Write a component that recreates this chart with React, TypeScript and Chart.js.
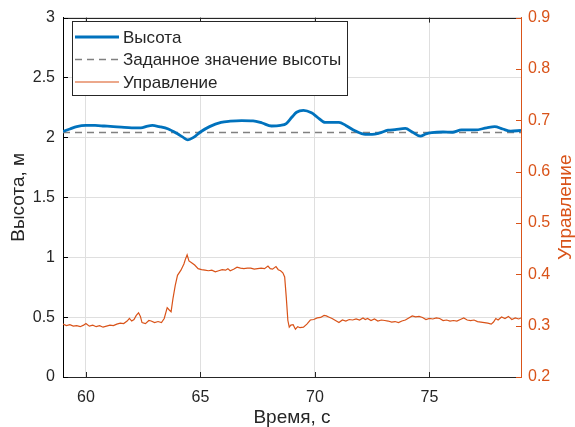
import React, { useEffect, useRef } from "react";
import { Chart, registerables } from "chart.js";

Chart.register(...registerables);

const BLUE = "#0072BD";
const ORANGE = "#D95319";
const DARK = "#262626";
const FONT = '"Liberation Sans", Arial, sans-serif';

const heightTime = [
  59.0, 59.3, 59.6, 60.0, 60.4, 60.8, 61.2, 61.55, 62.0, 62.4, 62.7, 62.9, 63.2, 63.6,
  64.0, 64.25, 64.45, 64.7, 65.0, 65.4, 65.9, 66.3, 66.8, 67.3, 67.7, 68.1, 68.5, 68.75,
  69.0, 69.2, 69.5, 69.85, 70.1, 70.45, 70.8, 71.05, 71.35, 71.75, 72.2, 72.5, 72.8, 73.2,
  73.5, 73.95, 74.25, 74.6, 74.85, 75.1, 75.6, 76.0, 76.4, 77.0, 77.5, 77.85, 78.2, 78.55, 79.0,
];
const heightValues = [
  2.05, 2.07, 2.09, 2.1, 2.1, 2.095, 2.09, 2.085, 2.08, 2.08, 2.095, 2.1, 2.09, 2.07,
  2.03, 2.0, 1.98, 2.0, 2.045, 2.09, 2.125, 2.135, 2.14, 2.138, 2.12, 2.095, 2.1, 2.115,
  2.17, 2.21, 2.225, 2.205, 2.17, 2.125, 2.125, 2.125, 2.1, 2.055, 2.025, 2.025, 2.035, 2.06,
  2.065, 2.075, 2.045, 2.01, 2.03, 2.04, 2.045, 2.043, 2.062, 2.062, 2.08, 2.09, 2.07, 2.052, 2.058,
];

const setpointTime = [59, 79];
const setpointValues = [2.04, 2.04];

const controlTime = [
  59.0, 59.15, 59.3, 59.45, 59.6, 59.75, 59.9, 60.0, 60.15, 60.3, 60.45, 60.6, 60.75, 60.9,
  61.05, 61.2, 61.35, 61.5, 61.65, 61.8, 61.9, 62.0, 62.1, 62.2, 62.3, 62.38, 62.45, 62.6,
  62.75, 62.85, 63.0, 63.15, 63.3, 63.42, 63.55, 63.65, 63.72, 63.8, 63.9, 64.0, 64.15, 64.28,
  64.35, 64.42, 64.5, 64.6, 64.75, 64.9, 65.05, 65.2, 65.35, 65.5, 65.65, 65.8, 65.95, 66.1,
  66.2, 66.3, 66.45, 66.6, 66.75, 66.9, 67.05, 67.2, 67.35, 67.5, 67.65, 67.8, 67.95, 68.05,
  68.15, 68.3, 68.4, 68.5, 68.6, 68.68, 68.75, 68.82, 68.88, 68.95, 69.05, 69.15, 69.25, 69.35,
  69.5, 69.65, 69.8, 69.95, 70.1, 70.25, 70.4, 70.5, 70.6, 70.75, 70.9, 71.05, 71.2, 71.35,
  71.5, 71.65, 71.8, 71.95, 72.1, 72.2, 72.3, 72.45, 72.6, 72.75, 72.9, 73.05, 73.2, 73.35,
  73.5, 73.65, 73.8, 73.95, 74.1, 74.25, 74.4, 74.55, 74.7, 74.85, 75.0, 75.15, 75.3, 75.45,
  75.6, 75.75, 75.9, 76.05, 76.2, 76.35, 76.5, 76.65, 76.8, 76.95, 77.1, 77.25, 77.4, 77.55,
  77.7, 77.8, 77.9, 78.0, 78.15, 78.3, 78.45, 78.6, 78.75, 78.9, 79.0,
];
const controlValues = [
  0.303, 0.3, 0.302, 0.299, 0.3, 0.298, 0.301, 0.304, 0.299, 0.301, 0.298, 0.3, 0.297, 0.299,
  0.301, 0.3, 0.303, 0.305, 0.304, 0.309, 0.314, 0.309, 0.312, 0.32, 0.325, 0.318, 0.306, 0.304,
  0.31, 0.309, 0.306, 0.308, 0.306, 0.314, 0.335, 0.33, 0.327, 0.352, 0.378, 0.398, 0.408, 0.42,
  0.43, 0.438, 0.426, 0.423, 0.418, 0.411, 0.409, 0.408, 0.407, 0.408, 0.405, 0.407, 0.409, 0.408,
  0.411, 0.407, 0.41, 0.414, 0.412, 0.411, 0.412, 0.412, 0.41, 0.411, 0.412, 0.411, 0.416, 0.411,
  0.41, 0.415, 0.409, 0.407, 0.403, 0.395, 0.355, 0.31, 0.297, 0.301, 0.302, 0.293, 0.298, 0.296,
  0.297, 0.303, 0.311, 0.312, 0.315, 0.316, 0.32, 0.319, 0.317, 0.314, 0.31, 0.306, 0.311, 0.309,
  0.312, 0.311, 0.313, 0.311, 0.315, 0.312, 0.314, 0.31, 0.313, 0.309, 0.311, 0.31, 0.309, 0.307,
  0.308, 0.306, 0.309, 0.311, 0.315, 0.319, 0.317, 0.318, 0.316, 0.312, 0.314, 0.313, 0.315, 0.314,
  0.31, 0.311, 0.309, 0.31, 0.309, 0.312, 0.315, 0.311, 0.31, 0.311, 0.308, 0.307, 0.306, 0.305,
  0.303, 0.307, 0.314, 0.311, 0.317, 0.314, 0.318, 0.312, 0.315, 0.313, 0.315,
];

const xTickValues = [60, 65, 70, 75];
const leftTickValues = [0, 0.5, 1, 1.5, 2, 2.5, 3];
const rightTickValues = [0.2, 0.3, 0.4, 0.5, 0.6, 0.7, 0.8, 0.9];
const legendLabels = ["Высота", "Заданное значение высоты", "Управление"];
const xTitle = "Время, с";
const leftTitle = "Высота, м";
const rightTitle = "Управление";

const toPoints = (xs: number[], ys: number[]) => xs.map((x, i) => ({ x, y: ys[i] }));

const framePlugin = {
  id: "frame",
  afterDraw(chart: any) {
    const { ctx, chartArea: a, scales } = chart;
    ctx.save();
    ctx.lineWidth = 1;
    // top border
    ctx.strokeStyle = DARK;
    ctx.beginPath();
    ctx.moveTo(a.left, Math.round(a.top) + 0.5);
    ctx.lineTo(a.right, Math.round(a.top) + 0.5);
    ctx.stroke();
    // x ticks (inward, bottom and top)
    ctx.beginPath();
    for (const v of xTickValues) {
      const px = Math.round(scales.x.getPixelForValue(v)) + 0.5;
      ctx.moveTo(px, a.bottom);
      ctx.lineTo(px, a.bottom - 5);
      ctx.moveTo(px, a.top);
      ctx.lineTo(px, a.top + 5);
    }
    ctx.stroke();
    // left ticks
    ctx.strokeStyle = "#000";
    ctx.beginPath();
    for (const v of leftTickValues) {
      const py = Math.round(scales.y.getPixelForValue(v)) + 0.5;
      ctx.moveTo(a.left, py);
      ctx.lineTo(a.left + 5, py);
    }
    ctx.stroke();
    // right ticks
    ctx.strokeStyle = ORANGE;
    ctx.beginPath();
    for (const v of rightTickValues) {
      const py = Math.round(scales.y1.getPixelForValue(v)) + 0.5;
      ctx.moveTo(a.right, py);
      ctx.lineTo(a.right - 5, py);
    }
    ctx.stroke();
    // right title (reads bottom to top)
    ctx.save();
    ctx.fillStyle = ORANGE;
    ctx.font = `19px ${FONT}`;
    ctx.translate(566, (a.top + a.bottom) / 2 + 10);
    ctx.rotate(-Math.PI / 2);
    ctx.textAlign = "center";
    ctx.textBaseline = "middle";
    ctx.fillText(rightTitle, 0, 0);
    ctx.restore();

    // legend
    const bx = 72.5, by = 21.5, bw = 275, bh = 74;
    ctx.fillStyle = "#fff";
    ctx.fillRect(bx, by, bw, bh);
    ctx.strokeStyle = DARK;
    ctx.lineWidth = 1;
    ctx.strokeRect(bx, by, bw, bh);
    const rows = [37, 59.5, 82];
    const styles = [
      { color: BLUE, width: 2.8, dash: [] as number[] },
      { color: "#808080", width: 1.5, dash: [7, 5] },
      { color: ORANGE, width: 1.2, dash: [] as number[] },
    ];
    ctx.font = `17px ${FONT}`;
    ctx.textBaseline = "middle";
    ctx.textAlign = "left";
    rows.forEach((ry, i) => {
      const s = styles[i];
      ctx.strokeStyle = s.color;
      ctx.lineWidth = s.width;
      ctx.setLineDash(s.dash);
      ctx.beginPath();
      ctx.moveTo(75, ry);
      ctx.lineTo(119, ry);
      ctx.stroke();
      ctx.setLineDash([]);
      ctx.fillStyle = DARK;
      ctx.fillText(legendLabels[i], 123, ry + 1);
    });
    ctx.restore();
  },
};

export default function App() {
  const canvasRef = useRef<HTMLCanvasElement | null>(null);

  useEffect(() => {
    if (!canvasRef.current) return;
    const chart = new Chart(canvasRef.current, {
      type: "line",
      data: {
        datasets: [
          {
            label: legendLabels[0],
            data: toPoints(heightTime, heightValues),
            borderColor: BLUE,
            borderWidth: 2.8,
            pointRadius: 0,
            tension: 0.4,
            cubicInterpolationMode: "monotone",
            yAxisID: "y",
            fill: false,
          },
          {
            label: legendLabels[1],
            data: toPoints(setpointTime, setpointValues),
            borderColor: "#808080",
            borderWidth: 1.5,
            borderDash: [7, 5],
            pointRadius: 0,
            yAxisID: "y",
            fill: false,
          },
          {
            label: legendLabels[2],
            data: toPoints(controlTime, controlValues),
            borderColor: ORANGE,
            borderWidth: 1.2,
            pointRadius: 0,
            tension: 0,
            yAxisID: "y1",
            fill: false,
          },
        ],
      },
      options: {
        responsive: false,
        animation: false,
        devicePixelRatio: 1,
        parsing: false,
        layout: { padding: { top: 17, left: 0, right: 0, bottom: 0 } },
        plugins: { legend: { display: false }, tooltip: { enabled: false } },
        scales: {
          x: {
            type: "linear",
            min: 59,
            max: 79,
            afterBuildTicks: (s: any) => {
              s.ticks = xTickValues.map((v) => ({ value: v }));
            },
            afterFit: (s: any) => {
              s.height = 50;
            },
            grid: { color: "#dfdfdf", drawTicks: false },
            border: { color: DARK, width: 1 },
            ticks: {
              color: DARK,
              font: { family: FONT, size: 16 },
              padding: 11,
              maxRotation: 0,
              callback: (v: any) => String(v),
            },
            title: {
              display: true,
              text: xTitle,
              color: DARK,
              font: { family: FONT, size: 19, lineHeight: 1 },
              padding: { top: 0, bottom: 0 },
            },
          },
          y: {
            type: "linear",
            position: "left",
            min: 0,
            max: 3,
            afterBuildTicks: (s: any) => {
              s.ticks = leftTickValues.map((v) => ({ value: v }));
            },
            afterFit: (s: any) => {
              s.width = 63;
            },
            grid: { color: "#dfdfdf", drawTicks: false },
            border: { color: "#000", width: 1 },
            ticks: {
              color: DARK,
              font: { family: FONT, size: 16 },
              padding: 8,
              callback: (v: any) => String(v),
            },
            title: {
              display: true,
              text: leftTitle,
              color: DARK,
              font: { family: FONT, size: 19, lineHeight: 1 },
              padding: { top: 9, bottom: 0 },
            },
          },
          y1: {
            type: "linear",
            position: "right",
            min: 0.2,
            max: 0.9,
            afterBuildTicks: (s: any) => {
              s.ticks = rightTickValues.map((v) => ({ value: v }));
            },
            afterFit: (s: any) => {
              s.width = 54;
            },
            grid: { display: false, drawTicks: false },
            border: { color: ORANGE, width: 1 },
            ticks: {
              color: ORANGE,
              font: { family: FONT, size: 16 },
              padding: 7,
              callback: (v: any) => Number(v).toFixed(1),
            },
          },
        },
      },
      plugins: [framePlugin],
    } as any);
    return () => chart.destroy();
  }, []);

  return (
    <div style={{ position: "absolute", left: 0, top: 0, width: 575, height: 427, background: "#fff" }}>
      <canvas ref={canvasRef} width={575} height={427} style={{ display: "block" }} />
    </div>
  );
}
